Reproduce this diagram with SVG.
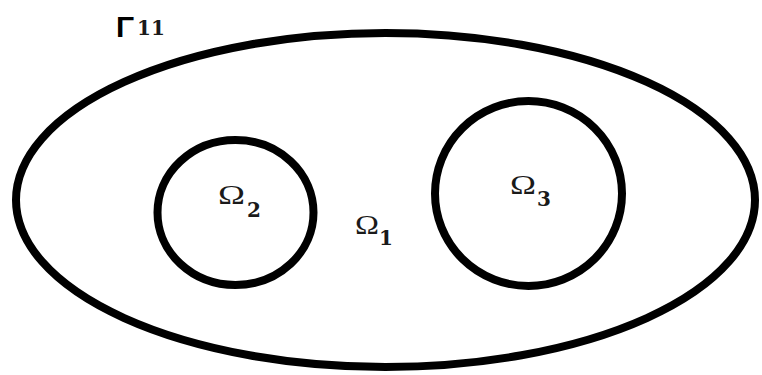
<svg xmlns="http://www.w3.org/2000/svg" width="762" height="375" viewBox="0 0 762 375">
<style>
.sh{fill:none;stroke:#000;stroke-width:8}
.om{font-family:"Liberation Serif","DejaVu Serif",serif;font-size:27px;fill:#1a1a1a}
.sb{font-family:"DejaVu Serif","Liberation Serif",serif;font-weight:bold;font-size:20px;fill:#1a1a1a}
.gm{font-family:"Liberation Sans","DejaVu Sans",sans-serif;font-weight:bold;font-size:30px;fill:#000}
</style>
<rect width="762" height="375" fill="#fff"/>
<g id="outer">
<ellipse class="sh" cx="385.5" cy="200" rx="369.5" ry="167"/>
<text class="gm" x="116" y="37">Γ</text>
<text class="sb" x="137" y="35">11</text>
<text class="om" x="355" y="234" textLength="24" lengthAdjust="spacingAndGlyphs">Ω</text>
<text class="sb" x="379" y="245">1</text>
</g>
<g id="omega2">
<ellipse class="sh" cx="235.5" cy="212.5" rx="78" ry="72.5"/>
<text class="om" x="218" y="204" textLength="27" lengthAdjust="spacingAndGlyphs">Ω</text>
<text class="sb" x="247" y="217">2</text>
</g>
<g id="omega3">
<ellipse class="sh" cx="528.5" cy="193.5" rx="93.5" ry="92.5"/>
<text class="om" x="510" y="194" textLength="26" lengthAdjust="spacingAndGlyphs">Ω</text>
<text class="sb" x="537" y="206">3</text>
</g>
<g id="connectors"/>
</svg>
